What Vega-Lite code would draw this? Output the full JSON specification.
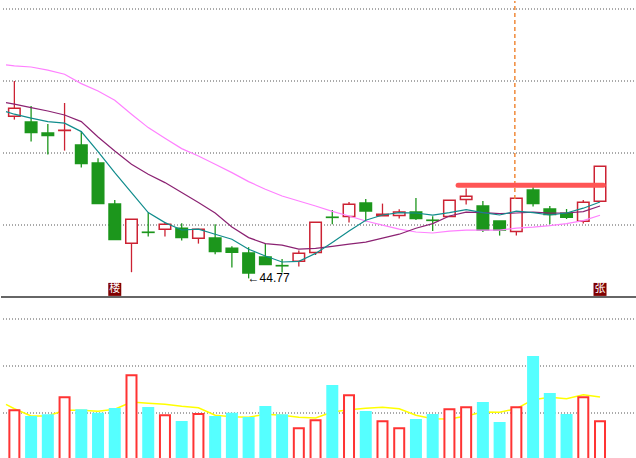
{
  "$schema": "https://vega.github.io/schema/vega-lite/v6.json",
  "padding": 0,
  "spacing": 0,
  "background": "white",
  "config": {"view": {"stroke": null}, "concat": {"spacing": 0}},
  "resolve": {"scale": {"fill": "independent", "stroke": "independent", "color": "independent", "x": "independent", "y": "independent"}},
  "datasets": {
    "k": [
      {"i": 0, "o": 52.88, "h": 54.64, "l": 52.71, "c": 53.28, "v": 24.35, "d": "up"},
      {"i": 1, "o": 52.59, "h": 53.39, "l": 51.61, "c": 52.06, "v": 21, "d": "down"},
      {"i": 2, "o": 52.04, "h": 52.49, "l": 50.96, "c": 51.91, "v": 21.85, "d": "down"},
      {"i": 3, "o": 52.17, "h": 53.54, "l": 51.16, "c": 52.18, "v": 30.85, "d": "up"},
      {"i": 4, "o": 51.44, "h": 52.14, "l": 50.31, "c": 50.51, "v": 24.35, "d": "down"},
      {"i": 5, "o": 50.54, "h": 50.78, "l": 48.51, "c": 48.51, "v": 22.65, "d": "down"},
      {"i": 6, "o": 48.49, "h": 48.69, "l": 46.71, "c": 46.71, "v": 25, "d": "down"},
      {"i": 7, "o": 46.53, "h": 47.73, "l": 45.08, "c": 47.73, "v": 41.85, "d": "up"},
      {"i": 8, "o": 47.08, "h": 48.06, "l": 46.86, "c": 47.07, "v": 25.5, "d": "down"},
      {"i": 9, "o": 47.23, "h": 47.58, "l": 46.86, "c": 47.48, "v": 21.85, "d": "up"},
      {"i": 10, "o": 47.28, "h": 47.53, "l": 46.66, "c": 46.81, "v": 18.5, "d": "down"},
      {"i": 11, "o": 46.78, "h": 47.23, "l": 46.51, "c": 47.23, "v": 22.5, "d": "up"},
      {"i": 12, "o": 46.79, "h": 47.48, "l": 45.98, "c": 46.11, "v": 21, "d": "down"},
      {"i": 13, "o": 46.28, "h": 46.38, "l": 45.31, "c": 46.08, "v": 22.65, "d": "down"},
      {"i": 14, "o": 46.04, "h": 46.33, "l": 44.77, "c": 45.04, "v": 20.5, "d": "down"},
      {"i": 15, "o": 45.84, "h": 46.51, "l": 45.46, "c": 45.46, "v": 26, "d": "down"},
      {"i": 16, "o": 45.41, "h": 45.74, "l": 45.07, "c": 45.40, "v": 21.85, "d": "down"},
      {"i": 17, "o": 45.63, "h": 46.17, "l": 45.36, "c": 46.03, "v": 15.35, "d": "up"},
      {"i": 18, "o": 46.07, "h": 47.58, "l": 45.94, "c": 47.58, "v": 19.35, "d": "up"},
      {"i": 19, "o": 47.83, "h": 48.19, "l": 47.48, "c": 47.82, "v": 36.5, "d": "down"},
      {"i": 20, "o": 47.87, "h": 48.59, "l": 47.57, "c": 48.48, "v": 31.85, "d": "up"},
      {"i": 21, "o": 48.54, "h": 48.74, "l": 47.61, "c": 48.14, "v": 23.5, "d": "down"},
      {"i": 22, "o": 47.90, "h": 48.51, "l": 47.90, "c": 47.98, "v": 18.85, "d": "up"},
      {"i": 23, "o": 47.92, "h": 48.23, "l": 47.77, "c": 48.09, "v": 15.35, "d": "up"},
      {"i": 24, "o": 48.09, "h": 48.79, "l": 47.69, "c": 47.77, "v": 19.5, "d": "down"},
      {"i": 25, "o": 47.68, "h": 47.88, "l": 47.14, "c": 47.67, "v": 22, "d": "down"},
      {"i": 26, "o": 47.86, "h": 48.68, "l": 47.86, "c": 48.68, "v": 24.85, "d": "up"},
      {"i": 27, "o": 48.71, "h": 49.26, "l": 48.46, "c": 48.88, "v": 25.85, "d": "up"},
      {"i": 28, "o": 48.39, "h": 48.64, "l": 47.09, "c": 47.19, "v": 28, "d": "down"},
      {"i": 29, "o": 47.64, "h": 47.64, "l": 46.91, "c": 47.19, "v": 18, "d": "down"},
      {"i": 30, "o": 47.11, "h": 48.78, "l": 46.91, "c": 48.78, "v": 25.85, "d": "up"},
      {"i": 31, "o": 49.19, "h": 49.39, "l": 48.36, "c": 48.51, "v": 51, "d": "down"},
      {"i": 32, "o": 48.24, "h": 48.39, "l": 47.49, "c": 47.96, "v": 32.5, "d": "down"},
      {"i": 33, "o": 48.03, "h": 48.24, "l": 47.74, "c": 47.83, "v": 22, "d": "down"},
      {"i": 34, "o": 47.63, "h": 48.69, "l": 47.51, "c": 48.58, "v": 30.85, "d": "up"},
      {"i": 35, "o": 48.63, "h": 50.38, "l": 48.63, "c": 50.38, "v": 18.85, "d": "up"}
    ],
    "ma": [
      {"i": -0.5, "m5": 53.11, "m10": 53.56, "m20": 55.45, "vm": 27.35},
      {"i": 0, "m5": 52.98, "m10": 53.48, "m20": 55.4, "vm": 25.15},
      {"i": 1, "m5": 52.78, "m10": 53.31, "m20": 55.34, "vm": 21.5},
      {"i": 2, "m5": 52.61, "m10": 53.14, "m20": 55.18, "vm": 21.5},
      {"i": 3, "m5": 52.53, "m10": 52.94, "m20": 54.98, "vm": 24.35},
      {"i": 4, "m5": 52.11, "m10": 52.61, "m20": 54.51, "vm": 24.35},
      {"i": 5, "m5": 51.11, "m10": 51.84, "m20": 54.14, "vm": 23.85},
      {"i": 6, "m5": 50.06, "m10": 51.14, "m20": 53.68, "vm": 24.85},
      {"i": 7, "m5": 49.06, "m10": 50.48, "m20": 52.98, "vm": 28.5},
      {"i": 8, "m5": 48.06, "m10": 49.98, "m20": 52.31, "vm": 27.85},
      {"i": 9, "m5": 47.56, "m10": 49.56, "m20": 51.78, "vm": 27.35},
      {"i": 10, "m5": 47.19, "m10": 49.06, "m20": 51.26, "vm": 26.35},
      {"i": 11, "m5": 47.23, "m10": 48.56, "m20": 50.89, "vm": 25.65},
      {"i": 12, "m5": 46.98, "m10": 48.04, "m20": 50.48, "vm": 21.85},
      {"i": 13, "m5": 46.73, "m10": 47.34, "m20": 50.06, "vm": 21.15},
      {"i": 14, "m5": 46.23, "m10": 46.81, "m20": 49.61, "vm": 20.85},
      {"i": 15, "m5": 45.89, "m10": 46.51, "m20": 49.23, "vm": 22.35},
      {"i": 16, "m5": 45.59, "m10": 46.43, "m20": 48.89, "vm": 21.85},
      {"i": 17, "m5": 45.62, "m10": 46.23, "m20": 48.64, "vm": 20.85},
      {"i": 18, "m5": 46.02, "m10": 46.27, "m20": 48.39, "vm": 20.5},
      {"i": 19, "m5": 46.57, "m10": 46.37, "m20": 48.12, "vm": 23.5},
      {"i": 20, "m5": 47.14, "m10": 46.48, "m20": 47.89, "vm": 24.65},
      {"i": 21, "m5": 47.68, "m10": 46.58, "m20": 47.64, "vm": 25.35},
      {"i": 22, "m5": 47.94, "m10": 46.78, "m20": 47.43, "vm": 25.85},
      {"i": 23, "m5": 48.06, "m10": 46.98, "m20": 47.23, "vm": 25.15},
      {"i": 24, "m5": 48.04, "m10": 47.28, "m20": 47.09, "vm": 21.85},
      {"i": 25, "m5": 47.93, "m10": 47.51, "m20": 47.04, "vm": 20.15},
      {"i": 26, "m5": 48.06, "m10": 47.89, "m20": 47.13, "vm": 20},
      {"i": 27, "m5": 48.21, "m10": 48.08, "m20": 47.18, "vm": 21.5},
      {"i": 28, "m5": 48.06, "m10": 48.06, "m20": 47.18, "vm": 23.5},
      {"i": 29, "m5": 47.94, "m10": 48.01, "m20": 47.18, "vm": 23.35},
      {"i": 30, "m5": 48.13, "m10": 48.04, "m20": 47.28, "vm": 25.15},
      {"i": 31, "m5": 48.06, "m10": 48.08, "m20": 47.33, "vm": 29.65},
      {"i": 32, "m5": 47.94, "m10": 48.03, "m20": 47.41, "vm": 30.85},
      {"i": 33, "m5": 48.04, "m10": 48.04, "m20": 47.51, "vm": 30.15},
      {"i": 34, "m5": 48.28, "m10": 48.11, "m20": 47.66, "vm": 32.15},
      {"i": 35, "m5": 48.59, "m10": 48.39, "m20": 47.93, "vm": 31}
    ]
  },
  "vconcat": [
    {
      "width": 636,
      "height": 296,
      "layer": [
        {
          "data": {"values": [{"p": 58.24}, {"p": 54.64}, {"p": 51.04}, {"p": 47.44}]},
          "mark": {"type": "rule", "color": "#555555", "strokeWidth": 1, "strokeDash": [1, 2]},
          "encoding": {
            "y": {"field": "p", "type": "quantitative", "scale": {"domain": [43.84, 58.64], "nice": false, "zero": false}, "axis": null}
          }
        },
        {
          "data": {"values": [{"p": 43.84}]},
          "mark": {"type": "rule", "color": "#666666", "strokeWidth": 2},
          "encoding": {
            "y": {"field": "p", "type": "quantitative", "scale": {"domain": [43.84, 58.64], "nice": false, "zero": false}, "axis": null}
          }
        },
        {
          "data": {"name": "k"},
          "mark": {"type": "rule", "strokeWidth": 1.3},
          "encoding": {
            "x": {"field": "i", "type": "quantitative", "scale": {"domain": [-0.5, 36.9118], "nice": false, "zero": false}, "axis": null},
            "y": {"field": "l", "type": "quantitative", "scale": {"domain": [43.84, 58.64], "nice": false, "zero": false}, "axis": null},
            "y2": {"field": "h"},
            "color": {"field": "d", "type": "nominal", "scale": {"domain": ["up", "down"], "range": ["#cc2233", "#1c961c"]}, "legend": null}
          }
        },
        {
          "data": {"name": "k"},
          "mark": {"type": "bar", "size": 11.5, "strokeWidth": 1.5},
          "encoding": {
            "x": {"field": "i", "type": "quantitative", "scale": {"domain": [-0.5, 36.9118], "nice": false, "zero": false}, "axis": null},
            "y": {"field": "o", "type": "quantitative", "scale": {"domain": [43.84, 58.64], "nice": false, "zero": false}, "axis": null},
            "y2": {"field": "c"},
            "fill": {"field": "d", "type": "nominal", "scale": {"domain": ["up", "down"], "range": ["#ffffff", "#1c961c"]}, "legend": null},
            "stroke": {"field": "d", "type": "nominal", "scale": {"domain": ["up", "down"], "range": ["#cc2233", "#1c961c"]}, "legend": null}
          }
        },
        {
          "data": {"name": "ma"},
          "mark": {"type": "line", "color": "#ff80ff", "strokeWidth": 1.2},
          "encoding": {
            "x": {"field": "i", "type": "quantitative", "scale": {"domain": [-0.5, 36.9118], "nice": false, "zero": false}, "axis": null},
            "y": {"field": "m20", "type": "quantitative", "scale": {"domain": [43.84, 58.64], "nice": false, "zero": false}, "axis": null}
          }
        },
        {
          "data": {"name": "ma"},
          "mark": {"type": "line", "color": "#8b2272", "strokeWidth": 1.2},
          "encoding": {
            "x": {"field": "i", "type": "quantitative", "scale": {"domain": [-0.5, 36.9118], "nice": false, "zero": false}, "axis": null},
            "y": {"field": "m10", "type": "quantitative", "scale": {"domain": [43.84, 58.64], "nice": false, "zero": false}, "axis": null}
          }
        },
        {
          "data": {"name": "ma"},
          "mark": {"type": "line", "color": "#108c8c", "strokeWidth": 1.2},
          "encoding": {
            "x": {"field": "i", "type": "quantitative", "scale": {"domain": [-0.5, 36.9118], "nice": false, "zero": false}, "axis": null},
            "y": {"field": "m5", "type": "quantitative", "scale": {"domain": [43.84, 58.64], "nice": false, "zero": false}, "axis": null}
          }
        },
        {
          "data": {"values": [{"i": 29.91, "top": 58.64, "bot": 48.74}]},
          "mark": {"type": "rule", "color": "#f08a3a", "strokeWidth": 1.5, "strokeDash": [4, 3]},
          "encoding": {
            "x": {"field": "i", "type": "quantitative", "scale": {"domain": [-0.5, 36.9118], "nice": false, "zero": false}, "axis": null},
            "y": {"field": "bot", "type": "quantitative", "scale": {"domain": [43.84, 58.64], "nice": false, "zero": false}, "axis": null},
            "y2": {"field": "top"}
          }
        },
        {
          "data": {"values": [{"a": 26.52, "b": 35.19, "p": 49.43}]},
          "mark": {"type": "rule", "color": "#ff5555", "strokeWidth": 5, "strokeCap": "round"},
          "encoding": {
            "x": {"field": "a", "type": "quantitative", "scale": {"domain": [-0.5, 36.9118], "nice": false, "zero": false}, "axis": null},
            "x2": {"field": "b"},
            "y": {"field": "p", "type": "quantitative", "scale": {"domain": [43.84, 58.64], "nice": false, "zero": false}, "axis": null}
          }
        },
        {
          "data": {"values": [{"i": 14, "p": 44.79, "t": "←44.77"}]},
          "mark": {"type": "text", "align": "left", "baseline": "middle", "dx": -1, "font": "Liberation Sans", "fontSize": 12, "color": "#000000"},
          "encoding": {
            "x": {"field": "i", "type": "quantitative", "scale": {"domain": [-0.5, 36.9118], "nice": false, "zero": false}, "axis": null},
            "y": {"field": "p", "type": "quantitative", "scale": {"domain": [43.84, 58.64], "nice": false, "zero": false}, "axis": null},
            "text": {"field": "t"}
          }
        },
        {
          "data": {"values": [{"i": 6, "p": 44.22, "t": "楼"}, {"i": 35, "p": 44.22, "t": "张"}]},
          "layer": [
            {
              "mark": {"type": "point", "shape": "square", "size": 169, "filled": true, "opacity": 1, "color": "#800000"},
              "encoding": {
                "x": {"field": "i", "type": "quantitative", "scale": {"domain": [-0.5, 36.9118], "nice": false, "zero": false}, "axis": null},
                "y": {"field": "p", "type": "quantitative", "scale": {"domain": [43.84, 58.64], "nice": false, "zero": false}, "axis": null}
              }
            },
            {
              "mark": {"type": "text", "align": "center", "baseline": "middle", "font": "Noto Sans CJK SC", "fontSize": 11, "color": "#ffffff"},
              "encoding": {
                "x": {"field": "i", "type": "quantitative", "scale": {"domain": [-0.5, 36.9118], "nice": false, "zero": false}, "axis": null},
                "y": {"field": "p", "type": "quantitative", "scale": {"domain": [43.84, 58.64], "nice": false, "zero": false}, "axis": null},
                "text": {"field": "t"}
              }
            }
          ]
        }
      ]
    },
    {
      "width": 636,
      "height": 162,
      "layer": [
        {
          "data": {"values": [{"v": 70}, {"v": 46.5}, {"v": 23}]},
          "mark": {"type": "rule", "color": "#555555", "strokeWidth": 1, "strokeDash": [1, 2]},
          "encoding": {
            "y": {"field": "v", "type": "quantitative", "scale": {"domain": [-0.5, 80.5], "nice": false, "zero": false}, "axis": null}
          }
        },
        {
          "data": {"name": "ma"},
          "mark": {"type": "line", "color": "#ffff00", "strokeWidth": 1.5},
          "encoding": {
            "x": {"field": "i", "type": "quantitative", "scale": {"domain": [-0.5, 36.9118], "nice": false, "zero": false}, "axis": null},
            "y": {"field": "vm", "type": "quantitative", "scale": {"domain": [-0.5, 80.5], "nice": false, "zero": false}, "axis": null}
          }
        },
        {
          "data": {"name": "k"},
          "mark": {"type": "bar", "size": 10, "strokeWidth": 2},
          "encoding": {
            "x": {"field": "i", "type": "quantitative", "scale": {"domain": [-0.5, 36.9118], "nice": false, "zero": false}, "axis": null},
            "y": {"field": "v", "type": "quantitative", "scale": {"domain": [-0.5, 80.5], "nice": false, "zero": false}, "axis": null},
            "y2": {"datum": 0},
            "fill": {"field": "d", "type": "nominal", "scale": {"domain": ["up", "down"], "range": ["#ffffff", "#55ffff"]}, "legend": null},
            "stroke": {"field": "d", "type": "nominal", "scale": {"domain": ["up", "down"], "range": ["#ff3333", "#55ffff"]}, "legend": null}
          }
        }
      ]
    }
  ]
}
